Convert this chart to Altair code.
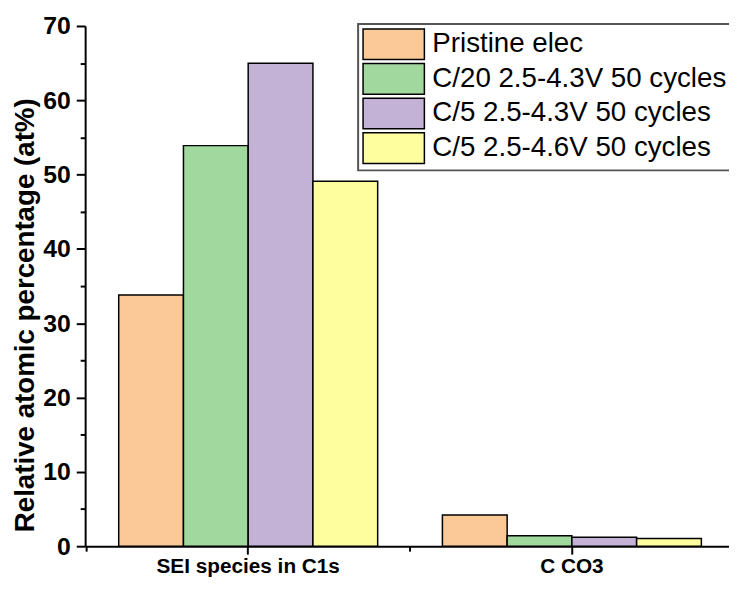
import altair as alt
import pandas as pd

categories = ["SEI species in C1s", "C CO3"]
series = ["Pristine elec", "C/20 2.5-4.3V 50 cycles", "C/5 2.5-4.3V 50 cycles", "C/5 2.5-4.6V 50 cycles"]
values = {
    "Pristine elec": [33.8, 4.2],
    "C/20 2.5-4.3V 50 cycles": [53.9, 1.4],
    "C/5 2.5-4.3V 50 cycles": [65.0, 1.2],
    "C/5 2.5-4.6V 50 cycles": [49.1, 1.05],
}
colors = ["#FBC897", "#A0D89D", "#C3B1D6", "#FFFE9F"]
major_y = [0, 10, 20, 30, 40, 50, 60, 70]
minor_y = [5, 15, 25, 35, 45, 55, 65]

rows = []
for si, s in enumerate(series):
    for ci, c in enumerate(categories):
        rows.append({"category": c, "series": s, "value": values[s][ci], "order": si})
df = pd.DataFrame(rows)

FONT = "Liberation Sans"

xscale = alt.Scale(domain=categories, range=[0, 657], paddingInner=0.2, paddingOuter=0.1037)
yscale = alt.Scale(domain=[0, 70], nice=False)

bars = alt.Chart(df).mark_bar(stroke="black", strokeWidth=1.5).encode(
    x=alt.X("category:N", scale=xscale, sort=categories,
            axis=alt.Axis(title=None, labelAngle=0, labelFont=FONT, labelFontWeight="bold",
                          labelFontSize=21, labelColor="black", tickSize=8, tickWidth=2,
                          tickColor="black", domainColor="black", domainWidth=2,
                          labelPadding=2, labelLimit=400, orient="bottom")),
    xOffset=alt.XOffset("series:N", sort=series, scale=alt.Scale(paddingInner=0, paddingOuter=0)),
    y=alt.Y("value:Q", scale=yscale,
            axis=alt.Axis(title="Relative atomic percentage (at%)", values=major_y, orient="left",
                          titleFont=FONT, titleFontWeight="bold", titleFontSize=28, titleColor="black",
                          titleY=292,
                          labelFont=FONT, labelFontWeight="bold", labelFontSize=25, labelColor="black",
                          tickSize=9, tickWidth=2, tickColor="black", domainColor="black",
                          domainWidth=2, labelPadding=6, titlePadding=3, grid=False)),
    color=alt.Color("series:N", sort=series, scale=alt.Scale(domain=series, range=colors),
                    legend=alt.Legend(title=None, orient="none", legendX=276, legendY=-2,
                                      symbolType="M-1,-1H3V1H-1Z", symbolSize=961,
                                      symbolStrokeColor="black", symbolStrokeWidth=1.5,
                                      labelFont=FONT, labelFontSize=28, labelColor="black",
                                      labelOffset=38, rowPadding=-5, padding=4,
                                      strokeColor="#555555", labelLimit=400)),
)

minor = alt.Chart(df).mark_bar(opacity=0).encode(
    x=alt.X("category:N", scale=xscale, sort=categories,
            axis=alt.Axis(title=None, labels=False, domain=False, tickSize=5, tickWidth=2,
                          tickColor="black", bandPosition=-0.125, orient="bottom")),
    y=alt.Y("value:Q", scale=yscale,
            axis=alt.Axis(title=None, labels=False, domain=False, values=minor_y, tickSize=5,
                          tickWidth=2, tickColor="black", orient="left", grid=False)),
)

chart = alt.layer(bars, minor).resolve_axis(x="independent", y="independent").properties(
    width=651, height=526,
    autosize=alt.AutoSizeParams(type="none"),
    padding={"left": 78, "top": 15, "right": 0, "bottom": 32},
).configure_view(stroke=None).configure_legend(strokeWidth=2)

chart.save("out.html", embed_options={"renderer": "svg", "actions": False})
